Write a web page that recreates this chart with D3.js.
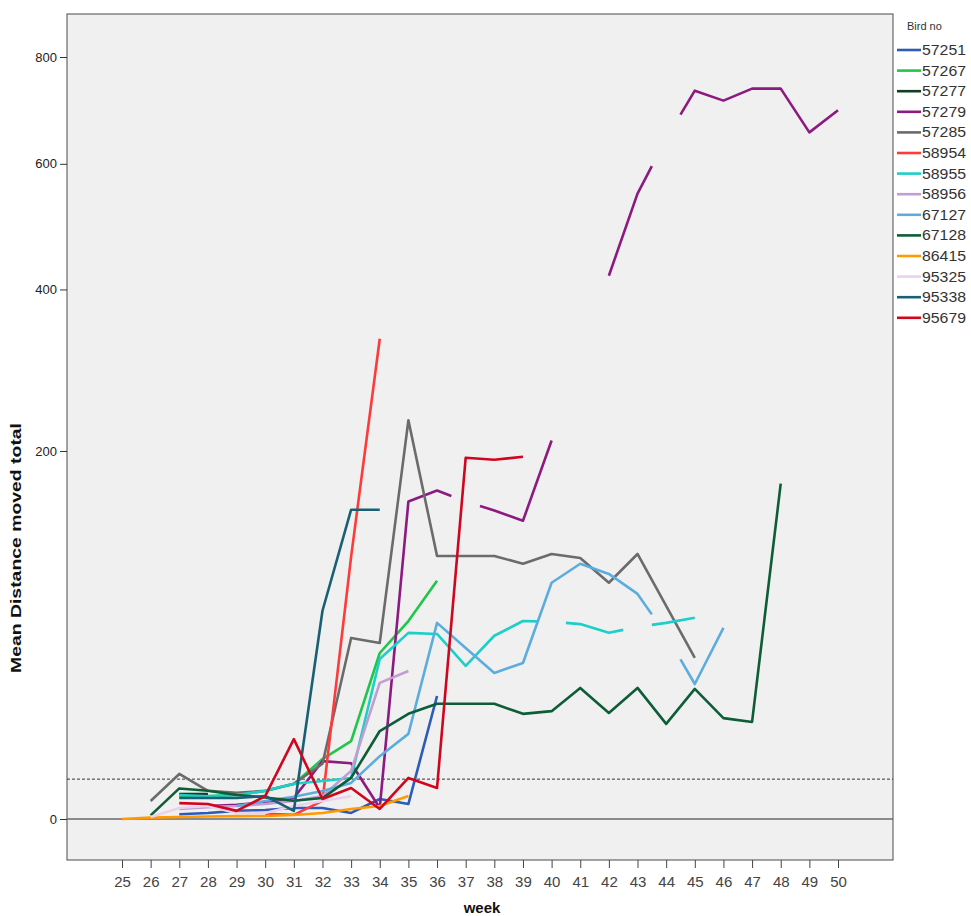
<!DOCTYPE html>
<html>
<head>
<meta charset="utf-8">
<script src="https://cdn.jsdelivr.net/npm/d3@7"></script>
<style>
  html, body { margin: 0; padding: 0; background: #ffffff; }
  svg { display: block; }
</style>
</head>
<body>
<svg id="chart" width="971" height="916"></svg>
<script>
// ---------------- DATA ----------------
const weeks = [25,26,27,28,29,30,31,32,33,34,35,36,37,38,39,40,41,42,43,44,45,46,47,48,49,50];
const yTicks = [0, 200, 400, 600, 800];
const N = null;

// values by week (25..50); missing weeks are null
const bird57251 = [N,N,0.05,0.08,0.14,0.17,0.25,0.25,0.08,0.78,0.45,24.8];
const bird57267 = [N,N,0.94,1.02,1.10,1.48,2.26,6.3,10.4,43.9,61.4,87.3];
const bird57277 = [N,N,1.19,1.19];
const bird57279 = [N,N,N,0.34,0.4,0.57,0.85,5.9,5.5,0.25,151,161,151,143,134,211,N,420,549,645,734,715,738,738,656,697];
const bird57285 = [N,0.64,3.66,1.5,1.3,1.5,2.3,5.4,51.8,49.1,233,105.5,105.5,105.5,99.6,107,104,86,107,70.7,41.5];
const bird58954 = [N,N,N,N,N,0.06,0.04,0.65,105,332];
const bird58955 = [N,N,1.1,1.0,1.1,1.5,2.3,2.65,3.07,40.9,54.6,54,37.6,53,61.4,61,59.6,54.6,58,60.3,63.3];
const bird58956 = [N,N,0.21,0.29,0.34,0.45,0.64,1.02,4.15,30.1,35.3];
const bird67127 = [N,N,N,N,0.34,0.64,0.95,1.48,2.4,6.9,12.3,60.3,46.5,34.4,39.0,86,99.6,92.2,78.4,53.5,29.6,57.4];
const bird67128 = [N,0.03,1.75,1.5,1.1,0.9,0.65,0.85,3.07,13.1,18.4,21.9,21.9,21.9,18.4,19.3,28.0,18.7,28.0,15.2,27.6,17.0,15.8,167.5];
const bird86415 = [0,0.005,0.01,0.015,0.02,0.021,0.036,0.079,0.21,0.34,1.02];
const bird95325 = [N,0.01,0.25,0.34,0.08,0.08,0.34,0.64,1.0];
const bird95338 = [N,N,0.85,0.85,0.85,1.02,0.14,67.6,143.6,143.6];
const bird95679 = [N,N,0.5,0.45,0.14,1.0,10.9,0.78,1.8,0.21,3.07,1.8,193,191,194];

// weeks whose neighbouring half-segments are not drawn
const hidden57279 = [37, 44];
const hidden58955 = [40, 43];
const hidden67127 = [44];

const birdIds = ["57251","57267","57277","57279","57285","58954","58955","58956","67127","67128","86415","95325","95338","95679"];
const birdColors = ["#2c5bb8","#1fc64a","#123d27","#8c1a80","#6b6b6b","#ff3a3a","#1ccfc9","#c29cd2","#5cadde","#0d5d37","#ff9a00","#ead2ee","#1a6075","#d0061f"];
const referenceLevel = 2.9;

const seriesValues = [bird57251,bird57267,bird57277,bird57279,bird57285,bird58954,bird58955,bird58956,bird67127,bird67128,bird86415,bird95325,bird95338,bird95679];
const hiddenByBird = {"57279": hidden57279, "58955": hidden58955, "67127": hidden67127};

// ---------------- LAYOUT ----------------
const svg = d3.select("#chart");
const plot = {left: 67, right: 893, top: 14, bottom: 860};

const x = d3.scaleLinear().domain([25, 50]).range([122, 838]);
const y = d3.scalePow().exponent(0.525).domain([0, 800]).range([819, 57]);

svg.append("rect")
  .attr("x", plot.left).attr("y", plot.top)
  .attr("width", plot.right - plot.left).attr("height", plot.bottom - plot.top)
  .attr("fill", "#f0f0f0").attr("stroke", "#4a4a4a").attr("stroke-width", 1);

// reference lines
svg.append("line")
  .attr("x1", plot.left).attr("x2", plot.right)
  .attr("y1", y(0)).attr("y2", y(0))
  .attr("stroke", "#6a6a6a").attr("stroke-width", 1.6);
svg.append("line")
  .attr("x1", plot.left).attr("x2", plot.right)
  .attr("y1", y(referenceLevel)).attr("y2", y(referenceLevel))
  .attr("stroke", "#333").attr("stroke-width", 1).attr("stroke-dasharray", "3,2");

// axes
const yAxis = svg.append("g")
  .attr("transform", `translate(${plot.left},0)`)
  .call(d3.axisLeft(y).tickValues(yTicks).tickSize(7).tickPadding(3).tickFormat(d3.format("d")));
yAxis.select(".domain").remove();
yAxis.selectAll("line").attr("stroke", "#333");
yAxis.selectAll("text").attr("font-family", "Arial, 'Liberation Sans', sans-serif")
  .attr("font-size", 13).attr("fill", "#222");

const xAxis = svg.append("g")
  .attr("transform", `translate(0,${plot.bottom})`)
  .call(d3.axisBottom(x).tickValues(weeks).tickSize(8).tickPadding(8).tickFormat(d3.format("d")));
xAxis.select(".domain").remove();
xAxis.selectAll("line").attr("stroke", "#444");
xAxis.selectAll("text").attr("font-family", "'Liberation Sans Narrow', 'Arial Narrow', Arial, sans-serif")
  .attr("font-size", 15).attr("fill", "#444");

// axis titles
svg.append("text")
  .attr("transform", `translate(21,548) rotate(-90)`)
  .attr("text-anchor", "middle")
  .attr("font-family", "'Liberation Sans Narrow', 'Arial Narrow', Arial, sans-serif")
  .attr("font-weight", "bold").attr("font-size", 15).attr("fill", "#111")
  .attr("textLength", 250).attr("lengthAdjust", "spacingAndGlyphs")
  .text("Mean Distance moved total");
svg.append("text")
  .attr("x", 482).attr("y", 913)
  .attr("text-anchor", "middle")
  .attr("font-family", "'Liberation Sans Narrow', 'Arial Narrow', Arial, sans-serif")
  .attr("font-weight", "bold").attr("font-size", 15).attr("fill", "#111")
  .text("week");

// ---------------- LINES ----------------
const lineGen = d3.line();
function buildPolylines(values, hidden) {
  const H = new Set(hidden || []);
  const out = [];
  let cur = [];
  const flush = () => { if (cur.length > 1) out.push(cur); cur = []; };
  for (let i = 0; i < weeks.length - 1; i++) {
    const a = values[i], b = values[i + 1];
    if (a == null || b == null) { flush(); continue; }
    const wa = weeks[i], wb = weeks[i + 1];
    const pa = [x(wa), y(a)], pb = [x(wb), y(b)];
    const ha = H.has(wa), hb = H.has(wb);
    if (ha && hb) { flush(); continue; }
    const mid = [(pa[0] + pb[0]) / 2, (pa[1] + pb[1]) / 2];
    const start = ha ? mid : pa;
    const end = hb ? mid : pb;
    if (ha) flush();
    if (cur.length === 0) cur.push(start);
    cur.push(end);
    if (hb) flush();
  }
  flush();
  return out;
}

const linesG = svg.append("g").attr("fill", "none").attr("stroke-linejoin", "round").attr("stroke-linecap", "butt");
birdIds.forEach((id, k) => {
  const vals = weeks.map((w, i) => seriesValues[k][i] === undefined ? null : seriesValues[k][i]);
  const polys = buildPolylines(vals, hiddenByBird[id]);
  linesG.selectAll(null).data(polys).enter().append("path")
    .attr("d", p => lineGen(p))
    .attr("stroke", birdColors[k])
    .attr("stroke-width", 2.6);
});

// ---------------- LEGEND ----------------
const legend = svg.append("g");
legend.append("text")
  .attr("x", 907).attr("y", 30)
  .attr("font-family", "'Liberation Sans Narrow', 'Arial Narrow', Arial, sans-serif")
  .attr("font-size", 11).attr("fill", "#333")
  .text("Bird no");
birdIds.forEach((id, k) => {
  const yy = 50 + k * 20.6;
  legend.append("line")
    .attr("x1", 897).attr("x2", 921).attr("y1", yy).attr("y2", yy)
    .attr("stroke", birdColors[k]).attr("stroke-width", 2.6);
  legend.append("text")
    .attr("x", 922).attr("y", yy + 5)
    .attr("font-family", "Arial, 'Liberation Sans', sans-serif")
    .attr("font-size", 15).attr("fill", "#333")
    .attr("textLength", 44).attr("lengthAdjust", "spacingAndGlyphs")
    .text(id);
});
</script>
</body>
</html>
